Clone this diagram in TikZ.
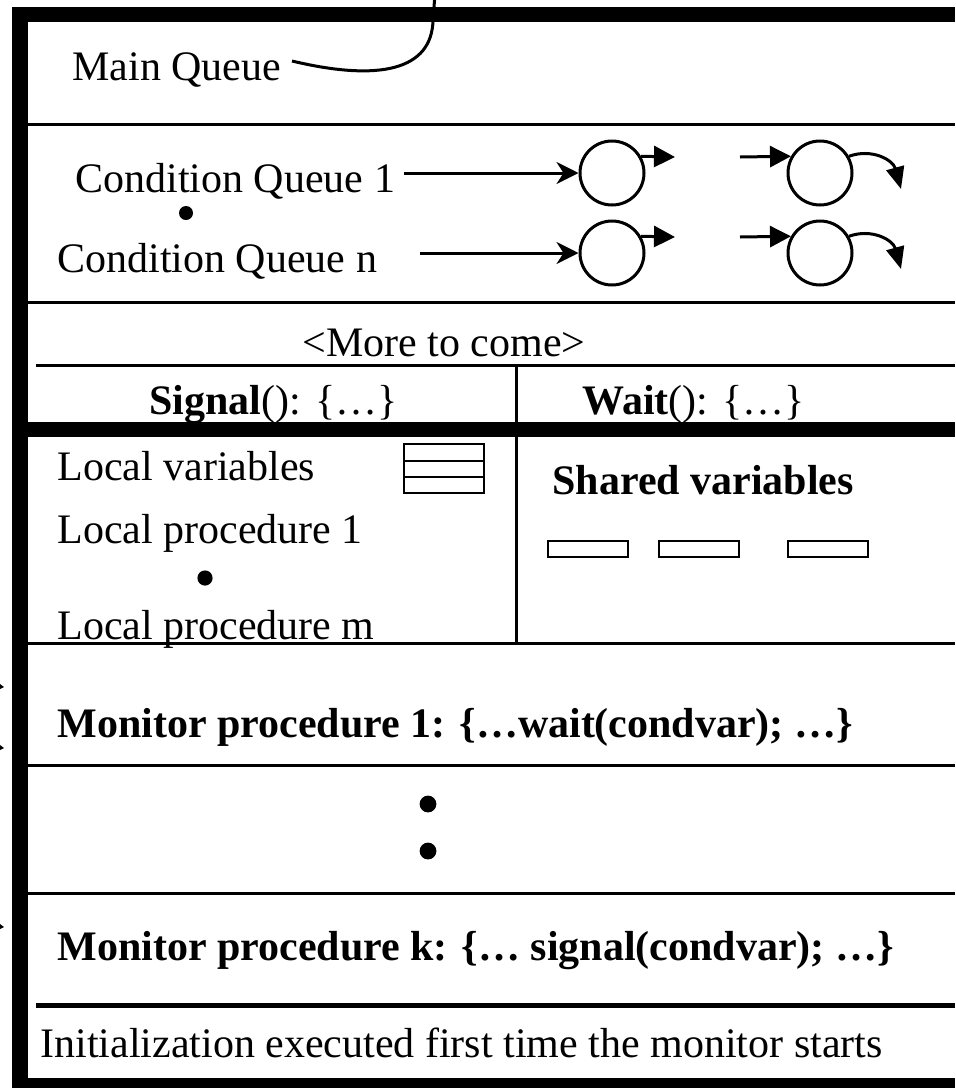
\documentclass[tikz,border=0pt]{standalone}
\usepackage{fontspec}
\setmainfont{Liberation Serif}
\usetikzlibrary{arrows.meta}
\begin{document}
\begin{tikzpicture}[x=0.5pt,y=-0.5pt,
  txt/.style={inner sep=0pt, anchor=base west, font=\fontsize{21}{25}\selectfont},
  btxt/.style={txt, font=\fontsize{21}{25}\selectfont\bfseries},
  rule/.style={line width=1.5pt},
  boxline/.style={line width=1.3pt},
  queue/.style={circle, draw, line width=1.5pt, minimum size=32pt, inner sep=0pt},
  feed/.style={line width=1.5pt, -{Stealth[length=11pt,width=11pt,inset=3.5pt]}},
  move/.style={line width=1.5pt, -{Triangle[length=10.5pt,width=10.5pt]}},
  leave/.style={line width=1.5pt, -{Triangle[length=11pt,width=9pt]}},
  dotmark/.style={fill=black}]
\useasboundingbox (0,0) rectangle (955,1088);

% section rules
\draw[rule] (28,124) -- (955,124);
\draw[rule] (28,302) -- (955,302);
\draw[rule] (36,365) -- (955,365);
\draw[rule] (516,365) -- (516,643);
\draw[rule] (28,643) -- (955,643);
\draw[rule] (28,765) -- (955,765);
\draw[rule] (28,893) -- (955,893);

% texts
\node[txt] (mq) at (72,80) {Main Queue};
\node[txt] (cq1) at (75,192) {Condition Queue 1};
\node[txt] (cqn) at (57,272) {Condition Queue n};
\node[txt, anchor=base] (more) at (444,356) {<More to come>};
\node[txt] (sig) at (149,414) {\textbf{Signal}(): \{…\}};
\node[txt] (wait) at (582,414) {\textbf{Wait}(): \{…\}};
\node[txt] (lv) at (57,480) {Local variables};
\node[txt] (lp1) at (57,543) {Local procedure 1};
\node[txt] (lpm) at (57,639) {Local procedure m};
\node[btxt] (sv) at (552,494) {Shared variables};
\node[btxt] (mp1) at (57,737) {Monitor procedure 1: \{…wait(condvar); …\}};
\node[btxt] (mpk) at (57,960) {Monitor procedure k: \{… signal(condvar); …\}};
\node[txt] (init) at (40,1057) {Initialization executed first time the monitor starts};

% thick bands and borders
\fill (28,422) rectangle (955,437);
\fill (36,1003) rectangle (955,1008);
\fill (12,7) rectangle (955,22);
\fill (12,7) rectangle (28,1088);
\fill (12,1078) rectangle (955,1088);

% main queue curve
\coordinate (mqs) at (292,61);
\coordinate (mqm) at (433,20);
\coordinate (mqt) at (435,-6);
\draw[rule] (mqs) .. controls (380,82) and (432,70) .. (mqm) -- (mqt);

% condition queues
\node[queue] (c1a) at (612,173) {};
\node[queue] (c1b) at (820,173) {};
\node[queue] (c2a) at (612,253) {};
\node[queue] (c2b) at (820,253) {};

\coordinate (f1) at (404,173);
\coordinate (f2) at (420,253);
\draw[feed] (f1) -- (c1a);
\draw[feed] (f2) -- (c2a);

\coordinate (o1) at (675,157);
\coordinate (o2) at (675,237);
\draw[move] (c1a.30) -- (o1);
\draw[move] (c2a.30) -- (o2);

\coordinate (i1) at (740,157);
\coordinate (i2) at (740,237);
\draw[move] (i1) -- (c1b.150);
\draw[move] (i2) -- (c2b.150);

\coordinate (e1) at (901,189);
\coordinate (e2) at (901,269);
\draw[leave] (c1b.30) .. controls (872,148) and (893,160) .. (e1);
\draw[leave] (c2b.30) .. controls (872,228) and (893,240) .. (e2);

% dots
\fill[dotmark] (186,213) circle[radius=3.5pt];
\fill[dotmark] (205,578) circle[radius=3.8pt];
\fill[dotmark] (428,804) circle[radius=4.2pt];
\fill[dotmark] (428,851) circle[radius=4.2pt];

% local variables box
\draw[boxline] (404,444) rectangle (484,493);
\draw[boxline] (404,461) -- (484,461);
\draw[boxline] (404,477) -- (484,477);

% shared variable boxes
\draw[boxline] (548,541) rectangle (628,557);
\draw[boxline] (659,541) rectangle (739,557);
\draw[boxline] (788,541) rectangle (868,557);

% arrow fragments at left edge
\fill (0,684) -- (4,687) -- (0,689) -- cycle;
\fill (0,745) -- (4,748) -- (0,750) -- cycle;
\fill (0,924) -- (4,927) -- (0,929) -- cycle;
\end{tikzpicture}
\end{document}
